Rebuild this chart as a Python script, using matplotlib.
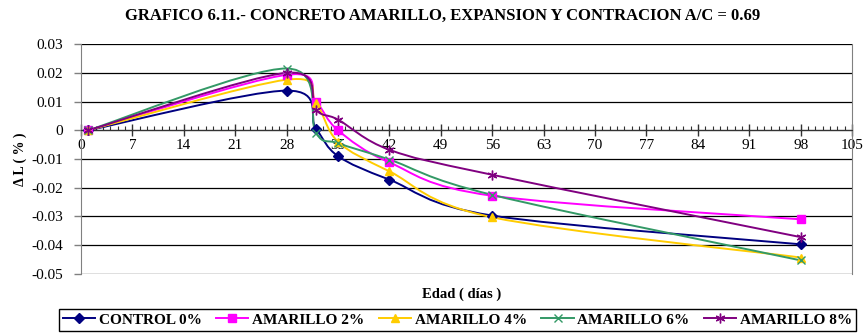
import numpy as np
import matplotlib
matplotlib.use('Agg')
import matplotlib.pyplot as plt
import matplotlib.ticker as mtick
from matplotlib.path import Path
from matplotlib.patches import PathPatch

plt.rcParams['font.family'] = ['Liberation Serif', 'DejaVu Serif']

# edad de los ensayos (dias) y variacion de longitud (%)
dias = [1, 28, 32, 35, 42, 56, 98]
control_0 = [0, 0.0138, 0.0005, -0.0090, -0.0172, -0.0297, -0.0397]
amarillo_2 = [0, 0.0193, 0.0100, 0.0000, -0.0112, -0.0228, -0.0310]
amarillo_4 = [0, 0.0176, 0.0094, -0.0040, -0.0143, -0.0303, -0.0443]
amarillo_6 = [0, 0.0215, -0.0010, -0.0045, -0.0102, -0.0225, -0.0453]
amarillo_8 = [0, 0.0200, 0.0070, 0.0037, -0.0068, -0.0155, -0.0372]

series = [
    ('CONTROL 0%', control_0, '#000080', 'D', 5),
    ('AMARILLO 2%', amarillo_2, '#FF00FF', 's', 6),
    ('AMARILLO 4%', amarillo_4, '#FFCC00', '^', 6),
    ('AMARILLO 6%', amarillo_6, '#339966', 'x', 6),
    ('AMARILLO 8%', amarillo_8, '#800080', (6, 2, 0), 7),
]


def smooth_path(x, y):
    # curva suavizada tipo Excel (bezier cubica, catmull-rom)
    pts = np.column_stack([x, y]).astype(float)
    n = len(pts)
    verts = [pts[0]]
    codes = [Path.MOVETO]
    for i in range(n - 1):
        p0 = pts[i - 1] if i > 0 else pts[i]
        p1 = pts[i]
        p2 = pts[i + 1]
        p3 = pts[i + 2] if i + 2 < n else pts[i + 1]
        c1 = p1 + (p2 - p0) / 6.0
        c2 = p2 - (p3 - p1) / 6.0
        verts += [c1, c2, p2]
        codes += [Path.CURVE4] * 3
    return Path(verts, codes)


def fmt_y(v, pos):
    v = round(v, 3) + 0.0
    return '0' if v == 0 else '{:g}'.format(v)


fig = plt.figure(figsize=(8.65, 3.34), dpi=100)
ax = fig.add_axes([0.0936, 0.180, 0.8915, 0.688])

for name, vals, color, marker, ms in series:
    patch = PathPatch(smooth_path(dias, vals), facecolor='none', edgecolor=color, lw=1.4, zorder=3)
    ax.add_patch(patch)
    ax.plot(dias, vals, ls='none', color=color, marker=marker, ms=ms,
            mec=color, mfc=color, mew=1.0, zorder=4)

ax.set_xlim(0, 105)
ax.set_ylim(-0.05, 0.03)
ax.xaxis.set_major_locator(mtick.MultipleLocator(7))
ax.xaxis.set_minor_locator(mtick.MultipleLocator(1))
ax.yaxis.set_major_locator(mtick.MultipleLocator(0.01))
ax.yaxis.set_major_formatter(mtick.FuncFormatter(fmt_y))

ax.grid(axis='y', color='black', lw=0.9)
ax.set_axisbelow(True)

ax.spines['bottom'].set_position(('data', 0))
ax.spines['bottom'].set_color('#333333')
ax.spines['top'].set_visible(False)
ax.spines['left'].set_color('#808080')
ax.spines['right'].set_color('#808080')
ax.tick_params(axis='x', which='major', direction='inout', length=8, width=1, color='#333333',
               labelsize=11, pad=2)
ax.tick_params(axis='x', which='minor', direction='in', length=3, width=0.8, color='#333333')
ax.tick_params(axis='y', direction='out', length=5, width=1, color='#808080', labelsize=11, pad=8)

fig.text(0.512, 0.952, 'GRAFICO 6.11.- CONCRETO AMARILLO, EXPANSION Y CONTRACION A/C = 0.69',
         ha='center', va='center', fontsize=12, fontweight='bold')
ax.set_ylabel('Δ L ( % )', fontsize=10, fontweight='bold', labelpad=3)
fig.text(0.534, 0.118, 'Edad ( días )', ha='center', va='center', fontsize=10.5, fontweight='bold')

handles = [plt.Line2D([], [], color=c, marker=m, ms=ms, mec=c, mfc=c, lw=1.4)
           for _, _, c, m, ms in series]
leg = fig.legend(handles, [s[0] for s in series], loc='center', bbox_to_anchor=(0.529, 0.042),
                 ncol=5, fancybox=False, edgecolor='black', framealpha=1,
                 prop={'weight': 'bold', 'size': 11}, handlelength=2.1, handletextpad=0.25,
                 columnspacing=0.95, borderpad=0.25, borderaxespad=0)
leg.get_frame().set_linewidth(1.0)

fig.savefig('out.png', dpi=100)
